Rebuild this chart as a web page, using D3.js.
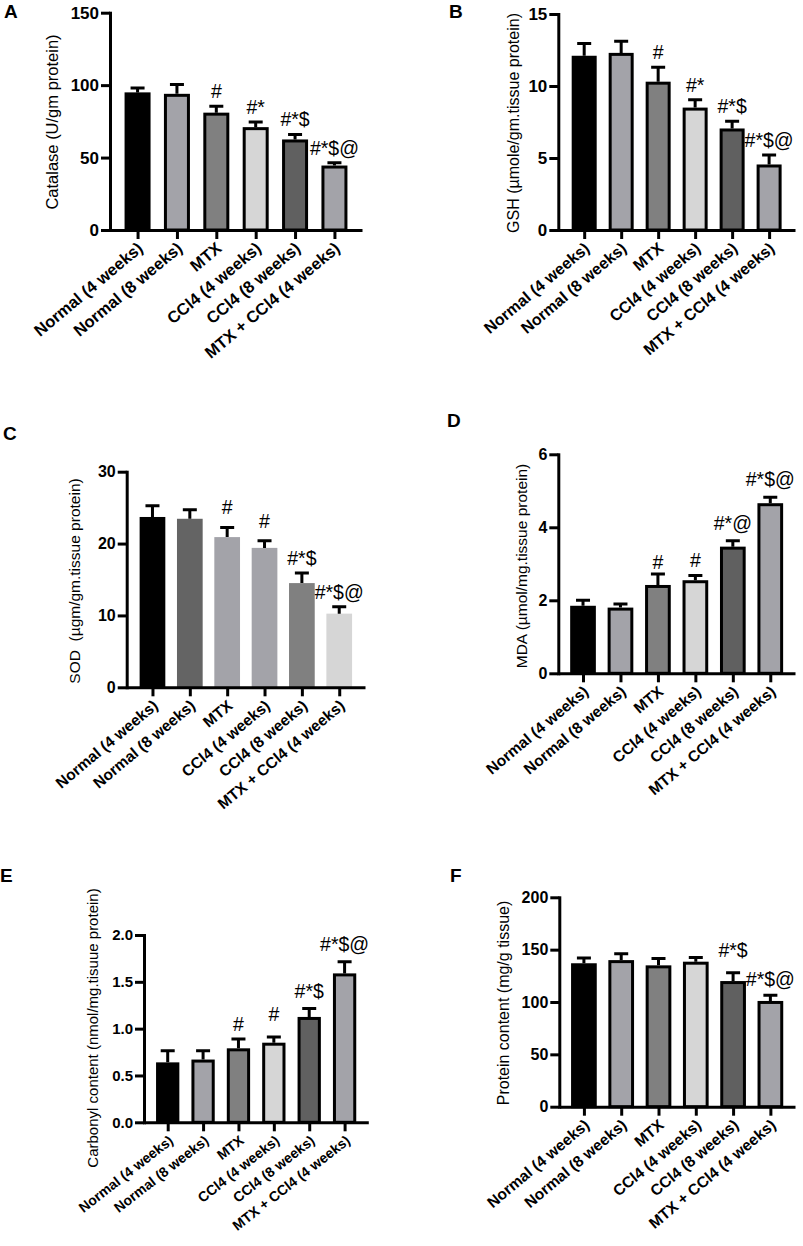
<!DOCTYPE html>
<html>
<head>
<meta charset="utf-8">
<script src="https://cdn.jsdelivr.net/npm/d3@7"></script>
<style>
  body { margin: 0; background: #fff; }
  svg { display: block; font-family: "Liberation Sans", Arial, sans-serif; }
</style>
</head>
<body>
<svg id="fig" width="803" height="1246"></svg>
<script>
// groups on the x axis (same for every panel)
const groups = ["Normal (4 weeks)", "Normal (8 weeks)", "MTX", "CCl4 (4 weeks)", "CCl4 (8 weeks)", "MTX + CCl4 (4 weeks)"];

// values (mean, SEM)
const catalaseMean = [95, 94, 81, 71, 62.5, 44.5];
const catalaseErr = [3, 6.5, 4.5, 3.5, 3.5, 2];
const catalaseSig = ["", "", "#", "#*", "#*$", "#*$@"];
const catalaseTicks = [0, 50, 100, 150];

const gshMean = [12.1, 12.3, 10.3, 8.5, 7.05, 4.55];
const gshErr = [0.85, 0.8, 1.0, 0.55, 0.5, 0.65];
const gshSig = ["", "", "#", "#*", "#*$", "#*$@"];
const gshTicks = [0, 5, 10, 15];

const sodMean = [23.7, 23.45, 20.9, 19.4, 14.5, 10.25];
const sodErr = [1.55, 1.25, 1.35, 1.0, 1.4, 0.95];
const sodSig = ["", "", "#", "#", "#*$", "#*$@"];
const sodTicks = [0, 10, 20, 30];

const mdaMean = [1.85, 1.8, 2.42, 2.55, 3.47, 4.66];
const mdaErr = [0.15, 0.1, 0.3, 0.13, 0.16, 0.16];
const mdaSig = ["", "", "#", "#", "#*@", "#*$@"];
const mdaTicks = [0, 2, 4, 6];

const carbonylMean = [0.64, 0.67, 0.79, 0.85, 1.125, 1.59];
const carbonylErr = [0.125, 0.095, 0.1, 0.06, 0.09, 0.125];
const carbonylSig = ["", "", "#", "#", "#*$", "#*$@"];
const carbonylTicks = [0, 0.5, 1.0, 1.5, 2.0];

const proteinMean = [137, 140, 135, 138.5, 120, 101];
const proteinErr = [5, 6, 6.5, 4, 8, 5.5];
const proteinSig = ["", "", "", "", "#*$", "#*$@"];
const proteinTicks = [0, 50, 100, 150, 200];

const greysA = ["#000000", "#a3a3a9", "#808080", "#d6d6d6", "#606060", "#a3a3a9"];
const greysC = ["#000000", "#646464", "#a3a3a9", "#a3a3a9", "#808080", "#d6d6d6"];

const svg = d3.select("#fig");

// layout per panel (positions in px, tuned to the figure)
const panels = [
  { letter: "A", lx: 4, ly: 18, mean: catalaseMean, err: catalaseErr, sig: catalaseSig, ticks: catalaseTicks, fmt: d3.format("d"),
    label: "Catalase (U/gm protein)", ylx: 52, yly: 122, x0: 110, x1: 362, yTop: 12.7, yBot: 230, pad: 0.7, bw: 26,
    fill: greysA, outline: true, tickFs: 17, labFs: 16.5, catFs: 16.5, rot: -40, lift: [0, 0, 0, 0, 0, 0] },
  { letter: "B", lx: 449, ly: 18, mean: gshMean, err: gshErr, sig: gshSig, ticks: gshTicks, fmt: d3.format("d"),
    label: "GSH (µmole/gm.tissue protein)", ylx: 513, yly: 123, x0: 558.3, x1: 795, yTop: 14, yBot: 230, pad: 0.7, bw: 25,
    fill: greysA, outline: true, tickFs: 17, labFs: 16, catFs: 16, rot: -40, lift: [0, 0, 0, 0, 0, 0] },
  { letter: "C", lx: 3, ly: 440, mean: sodMean, err: sodErr, sig: sodSig, ticks: sodTicks, fmt: d3.format("d"),
    label: "SOD  (µgm/gm.tissue protein)", ylx: 75, yly: 581, x0: 126.7, x1: 365, yTop: 471.7, yBot: 687.3, pad: 0.69, bw: 25.7,
    fill: greysC, outline: false, tickFs: 16, labFs: 15.5, catFs: 15.5, rot: -40, lift: [0, 0, 5, 5, 0, 0] },
  { letter: "D", lx: 447, ly: 427, mean: mdaMean, err: mdaErr, sig: mdaSig, ticks: mdaTicks, fmt: d3.format("d"),
    label: "MDA (µmol/mg.tissue protein)", ylx: 521.7, yly: 566, x0: 558.3, x1: 795, yTop: 454.3, yBot: 673.3, pad: 0.66, bw: 25.7,
    fill: greysA, outline: true, tickFs: 16, labFs: 15.5, catFs: 15.5, rot: -40, lift: [0, 0, -3, 0, 3, 3] },
  { letter: "E", lx: 0, ly: 882, mean: carbonylMean, err: carbonylErr, sig: carbonylSig, ticks: carbonylTicks, fmt: d3.format(".1f"),
    label: "Carbonyl content (nmol/mg.tisuue protein)", ylx: 93, yly: 1028, x0: 144, x1: 368.3, yTop: 935, yBot: 1122.3, pad: 0.67, bw: 23.3,
    fill: greysA, outline: true, tickFs: 15, labFs: 15, catFs: 14, rot: -38, lift: [0, 0, 0, 8, 3, 3] },
  { letter: "F", lx: 450, ly: 882, mean: proteinMean, err: proteinErr, sig: proteinSig, ticks: proteinTicks, fmt: d3.format("d"),
    label: "Protein content (mg/g tissue)", ylx: 503.3, yly: 1003, x0: 559.3, x1: 795, yTop: 897.3, yBot: 1106.7, pad: 0.66, bw: 25.7,
    fill: greysA, outline: true, tickFs: 16, labFs: 16, catFs: 15.5, rot: -40, lift: [0, 0, 0, 0, 8, 1] }
];

panels.forEach(p => {
  const g = svg.append("g").attr("class", "panel");
  const top = p.ticks[p.ticks.length - 1];

  const x = d3.scalePoint(groups, [p.x0, p.x1]).padding(p.pad);
  const y = d3.scaleLinear([0, top], [p.yBot, p.yTop]);

  const rows = groups.map((k, i) => ({ k: k, v: p.mean[i], e: p.err[i], s: p.sig[i], c: p.fill[i], l: p.lift[i] }));
  const sw = p.outline ? 3 : 0;

  // bars
  g.selectAll(".bar")
    .data(rows)
    .enter()
    .append("rect")
    .attr("class", "bar")
    .attr("x", d => x(d.k) - p.bw / 2 + sw / 2)
    .attr("y", d => y(d.v) + sw / 2)
    .attr("width", p.bw - sw)
    .attr("height", d => p.yBot - y(d.v) - sw / 2)
    .attr("fill", d => d.c)
    .attr("stroke", p.outline ? "#000" : "none")
    .attr("stroke-width", sw);

  // error bars (upper only, like Prism)
  g.selectAll(".err")
    .data(rows)
    .enter()
    .append("path")
    .attr("class", "err")
    .attr("d", d => "M" + x(d.k) + "," + y(d.v) + "V" + y(d.v + d.e) + "M" + (x(d.k) - 7) + "," + y(d.v + d.e) + "H" + (x(d.k) + 7))
    .attr("stroke", "#000")
    .attr("stroke-width", 3)
    .attr("fill", "none");

  // significance marks
  g.selectAll(".sig")
    .data(rows.filter(d => d.s))
    .enter()
    .append("text")
    .attr("class", "sig")
    .attr("x", d => x(d.k))
    .attr("y", d => y(d.v + d.e) - 8 - d.l)
    .attr("text-anchor", "middle")
    .attr("font-size", 19.5)
    .text(d => d.s);

  // y axis
  const ya = g.append("g")
    .attr("transform", "translate(" + p.x0 + ",0)")
    .call(d3.axisLeft(y).tickValues(p.ticks).tickFormat(p.fmt).tickSize(9).tickSizeOuter(0).tickPadding(2));
  ya.select(".domain").attr("stroke-width", 3).attr("stroke-linecap", "square");
  ya.selectAll(".tick line").attr("stroke-width", 3);
  ya.selectAll(".tick text").attr("font-size", p.tickFs).attr("font-weight", "bold")
    .attr("font-family", "'Liberation Sans', Arial, sans-serif").attr("fill", "#000");

  // x axis
  const xa = g.append("g")
    .attr("transform", "translate(0," + p.yBot + ")")
    .call(d3.axisBottom(x).tickSize(9).tickSizeOuter(0));
  xa.select(".domain").attr("stroke-width", 3);
  xa.selectAll(".tick line").attr("stroke-width", 3);
  xa.selectAll(".tick text")
    .attr("x", 0).attr("y", 0).attr("dy", 0)
    .attr("transform", "translate(6,20) rotate(" + p.rot + ")")
    .attr("text-anchor", "end")
    .attr("font-size", p.catFs).attr("font-weight", "bold")
    .attr("font-family", "'Liberation Sans', Arial, sans-serif").attr("fill", "#000");

  // y label
  g.append("text")
    .attr("transform", "translate(" + p.ylx + "," + p.yly + ") rotate(-90)")
    .attr("text-anchor", "middle")
    .attr("dy", "0.35em")
    .attr("font-size", p.labFs)
    .style("white-space", "pre")
    .text(p.label);

  // panel letter
  g.append("text")
    .attr("x", p.lx).attr("y", p.ly)
    .attr("font-size", 19).attr("font-weight", "bold")
    .text(p.letter);
});
</script>
</body>
</html>
